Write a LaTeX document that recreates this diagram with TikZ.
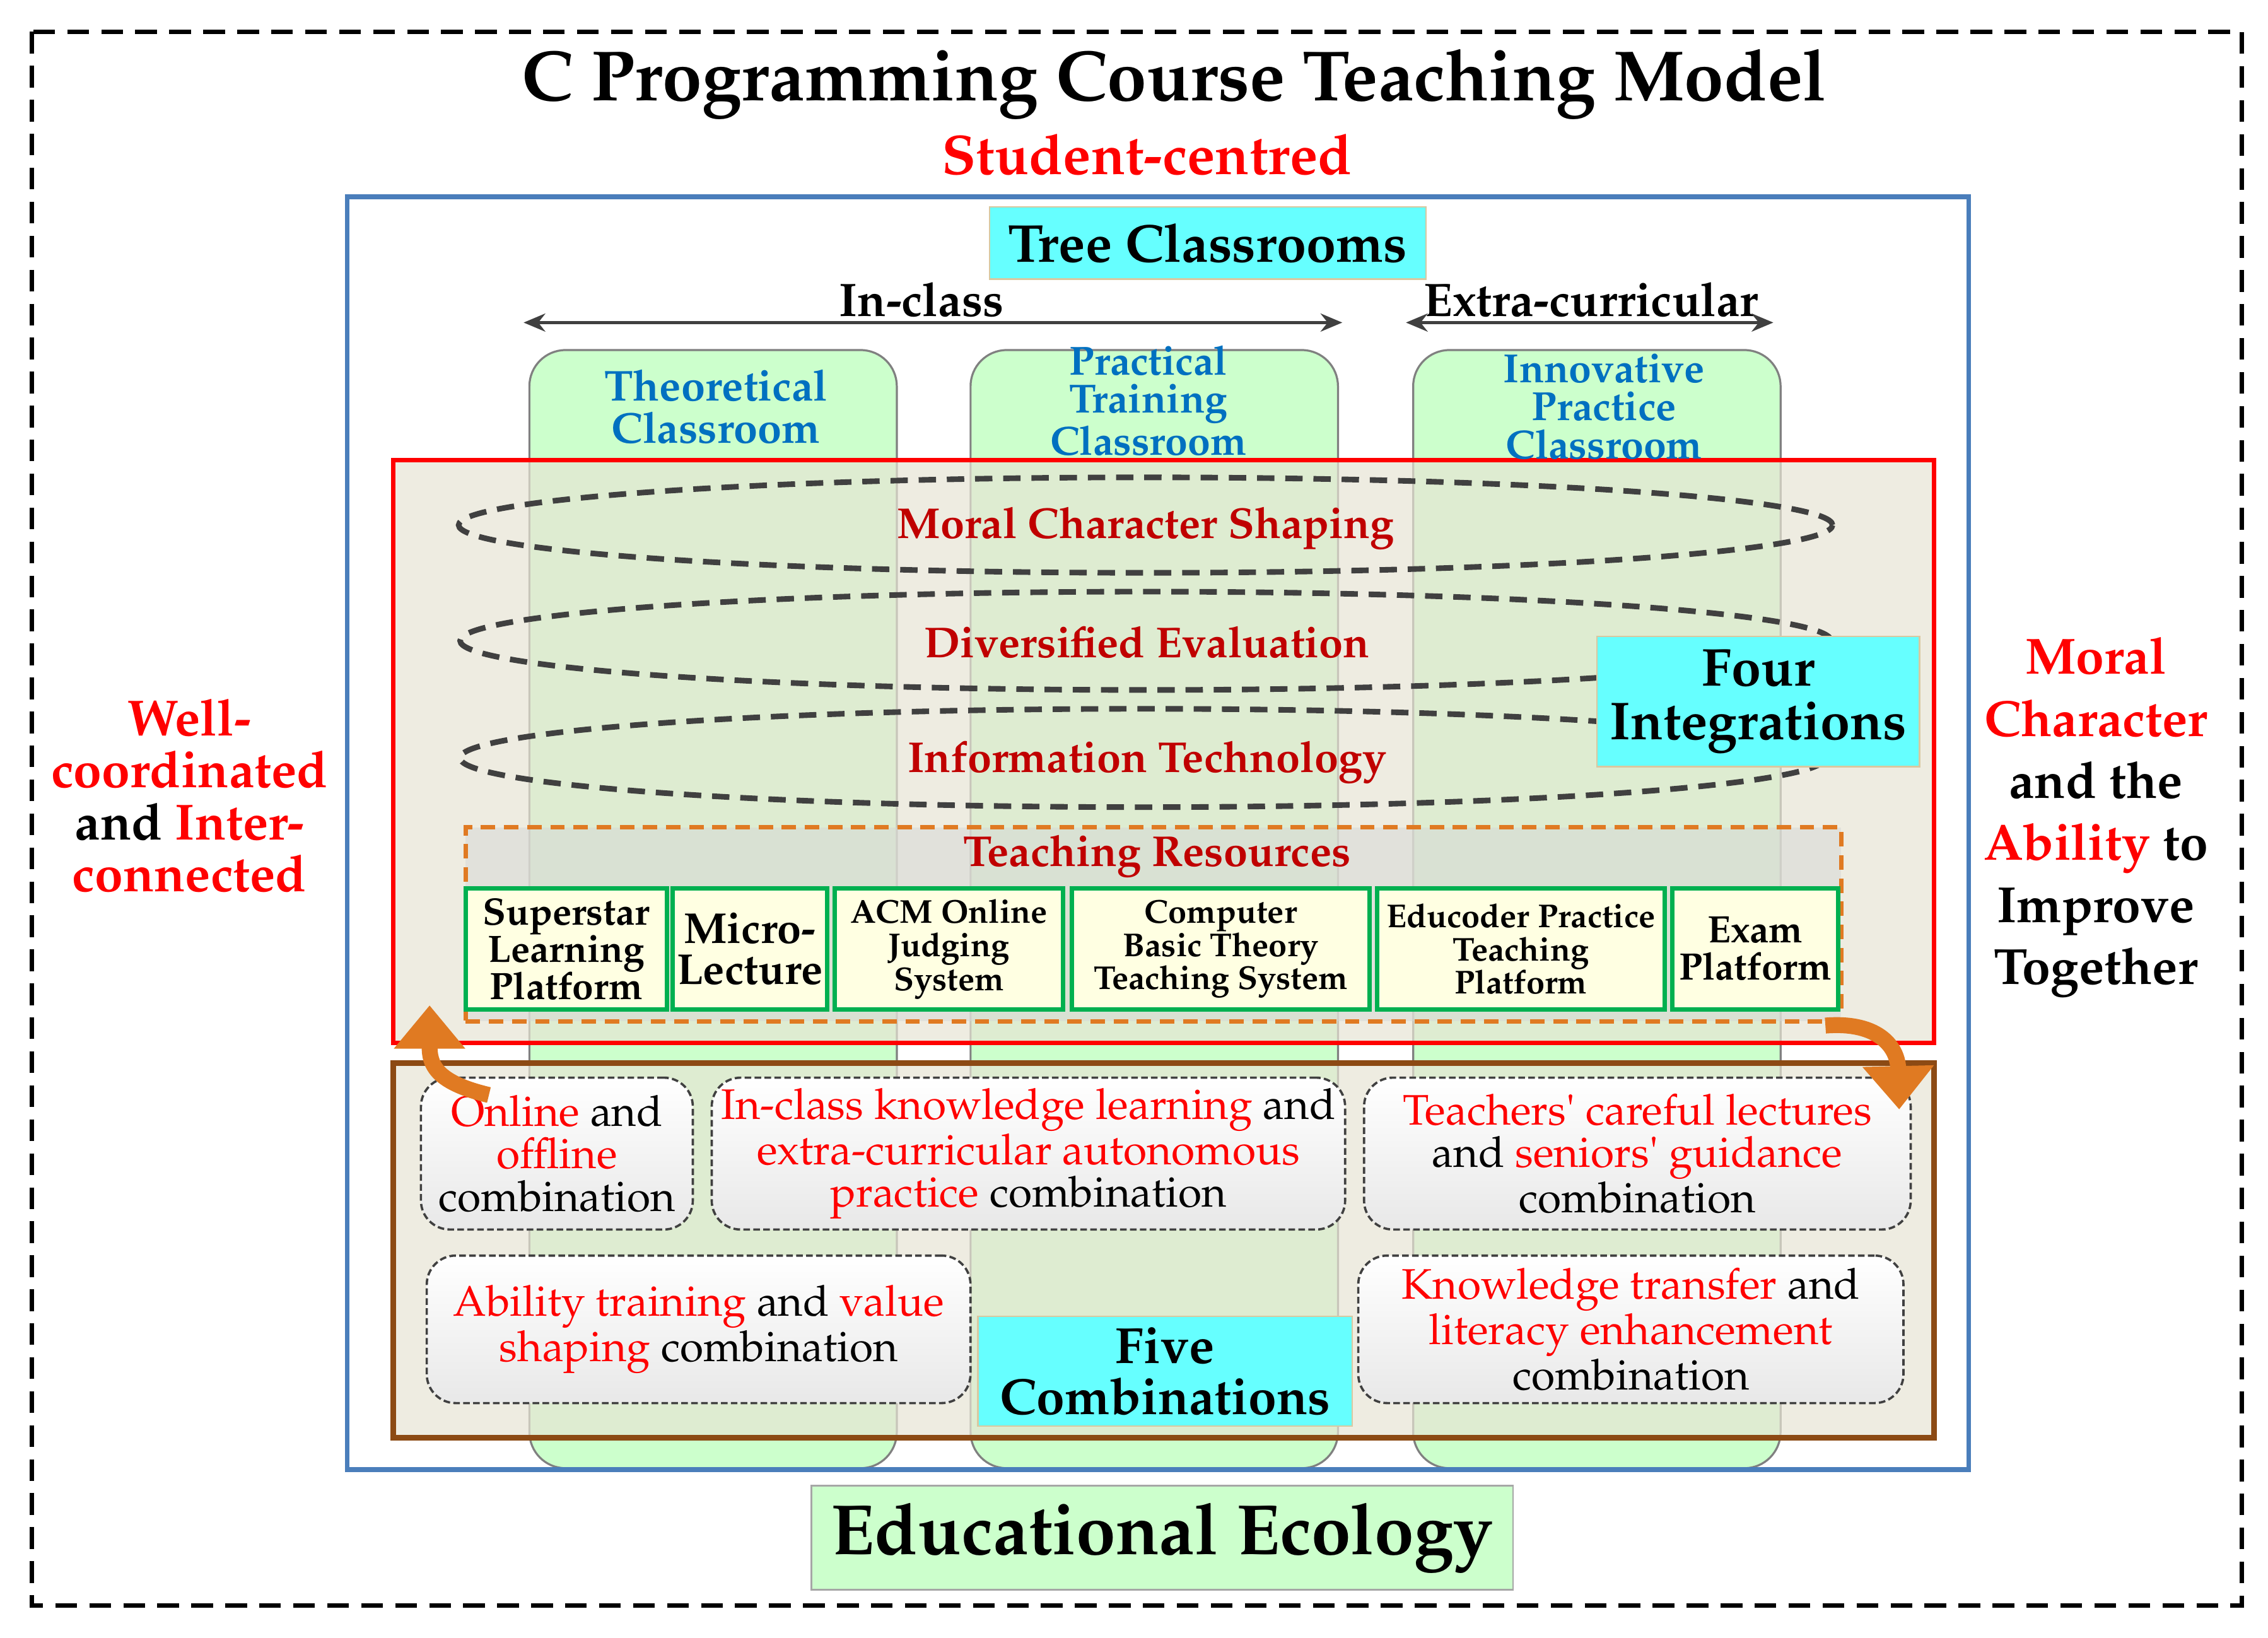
\documentclass[tikz,border=0pt]{standalone}
\usepackage[T1]{fontenc}
\usepackage{textcomp}
\renewcommand{\rmdefault}{ppl}
\usetikzlibrary{arrows.meta,fit}
\definecolor{cyanf}{HTML}{66FFFF}
\definecolor{tanbd}{HTML}{D9C8A0}
\definecolor{greenf}{HTML}{CCFFCC}
\definecolor{colblue}{HTML}{0070C0}
\definecolor{darkred}{HTML}{C00000}
\definecolor{bluebd}{HTML}{4A7EBB}
\definecolor{brownbd}{HTML}{8C4A14}
\definecolor{orangec}{HTML}{E07A22}
\definecolor{greenbd}{HTML}{00B050}
\definecolor{yellowf}{HTML}{FFFFE2}
\definecolor{beigef}{HTML}{E7E4D4}
\definecolor{resf}{HTML}{D6D8D6}
\definecolor{dgray}{HTML}{404040}
\newcommand\fs[2]{\fontsize{#1}{#2}\selectfont}
\newcommand\rtx[1]{\textcolor{red}{#1}}
\tikzset{
  cyanbox/.style={fill=cyanf, draw=tanbd, line width=0.6pt, align=center, text=black},
  resbox/.style={fill=yellowf, draw=greenbd, line width=1.7pt, align=center, minimum height=1.68cm},
  combobox/.style={draw=dgray, line width=0.9pt, dash pattern=on 2.6pt off 1.3pt, rounded corners=0.4cm, top color=white, bottom color=black!9, align=center, font=\fs{16.8}{16.7}},
  colbox/.style={fill=greenf, draw=gray, line width=0.8pt, rounded corners=0.5cm},
  coltitle/.style={text=colblue, align=center},
  ringstyle/.style={draw=dgray, line width=2.2pt, dash pattern=on 0.24cm off 0.15cm},
  ringtext/.style={text=darkred, font=\bfseries\fs{17}{18}},
  dblarrow/.style={draw=dgray, line width=1.3pt, {Stealth[length=0.3cm,width=0.25cm]}-{Stealth[length=0.3cm,width=0.25cm]}},
  orangearrow/.style={draw=orangec, line width=0.22cm, -{Triangle[width=0.95cm,length=0.6cm]}},
}
\begin{document}
\begin{tikzpicture}[x=0.02cm,y=-0.02cm, every node/.style={inner sep=0pt, outer sep=0pt}]
\useasboundingbox (0,0) rectangle (1568,1132);
% outer dashed frame
\draw[black, line width=1.8pt, dash pattern=on 0.3cm off 0.17cm] (22,22) rectangle (1550,1110);
% three classroom columns
\node (col1) [colbox, fit={(366,242) (620,1015)}] {};
\node (col2) [colbox, fit={(671,242) (925,1015)}] {};
\node (col3) [colbox, fit={(977,242) (1231,1015)}] {};
% red and brown frames
\node (redf) [fill=beigef, fill opacity=0.7, draw=red, draw opacity=1, line width=1.8pt, fit={(272,318) (1337,721)}] {};
\node (brownf) [fill=beigef, fill opacity=0.7, draw=brownbd, draw opacity=1, line width=2.3pt, fit={(272,735) (1337,994)}] {};
% blue frame
\draw[bluebd, line width=1.8pt] (240,136) rectangle (1361,1016);
% rings
\draw[ringstyle] (792,363) ellipse [x radius=9.5cm, y radius=0.66cm];
\draw[ringstyle] (792,443) ellipse [x radius=9.48cm, y radius=0.68cm];
\draw[ringstyle] (790,524) ellipse [x radius=9.44cm, y radius=0.68cm];
\node[ringtext] (r1) at (792,365) {Moral Character Shaping};
\node[ringtext] (r2) at (793,444) {Diversified Evaluation};
\node[ringtext] (r3) at (793,527) {Information Technology};
% teaching resources
\node (resf) [fill=resf, fill opacity=0.5, draw=orangec, draw opacity=1, line width=1.7pt, dash pattern=on 0.2cm off 0.12cm, fit={(322,572) (1273,706)}] {};
\node[text=darkred, font=\bfseries\fs{17}{18}] (trt) at (800,592) {Teaching Resources};
\node[resbox, minimum width=2.78cm, font=\bfseries\fs{15}{14.7}] (b1) at (391.5,656) {Superstar\\Learning\\Platform};
\node[resbox, minimum width=2.14cm, font=\bfseries\fs{17}{16}] (b2) at (518.5,656) {Micro-\\Lecture};
\node[resbox, minimum width=3.16cm, font=\bfseries\fs{13}{13.3}] (b3) at (656,656) {ACM Online\\Judging\\System};
\node[resbox, minimum width=4.12cm, font=\bfseries\fs{13}{13.1}] (b4) at (844,656) {Computer\\Basic Theory\\Teaching System};
\node[resbox, minimum width=3.98cm, font=\bfseries\fs{13}{13.1}] (b5) at (1051.5,656) {Educoder Practice\\Teaching\\Platform};
\node[resbox, minimum width=2.3cm, font=\bfseries\fs{15}{14.7}] (b6) at (1213.5,656) {Exam\\Platform};
% combinations
\node[combobox, minimum width=3.76cm, minimum height=2.1cm] (c1) at (385,797.5) {\rtx{Online} and\\\rtx{offline}\\combination};
\node[combobox, minimum width=8.76cm, minimum height=2.1cm] (c2) at (711,797.5) {\rtx{In-class knowledge learning} and\\\rtx{extra-curricular autonomous}\\\rtx{practice} combination};
\node[combobox, minimum width=7.56cm, minimum height=2.1cm] (c3) at (1132,797.5) {\rtx{Teachers\textquotesingle{} careful lectures}\\and \rtx{seniors\textquotesingle{} guidance}\\combination};
\node[combobox, minimum width=7.52cm, minimum height=2.04cm] (c4) at (483,919) {\rtx{Ability training} and \rtx{value}\\\rtx{shaping} combination};
\node[combobox, minimum width=7.54cm, minimum height=2.04cm] (c5) at (1127.5,919) {\rtx{Knowledge transfer} and\\\rtx{literacy enhancement}\\combination};
% cyan boxes
\node[cyanbox, minimum width=6.04cm, minimum height=1.0cm, font=\bfseries\fs{21}{22}] (tree) at (835,168) {Tree Classrooms};
\node[cyanbox, minimum width=4.46cm, minimum height=1.8cm, font=\bfseries\fs{21}{21}] (four) at (1215.5,485) {Four\\Integrations};
\node[cyanbox, minimum width=5.18cm, minimum height=1.52cm, font=\bfseries\fs{20}{20}] (five) at (805.5,948) {Five\\Combinations};
\node[fill=greenf, draw=gray!70, line width=0.6pt, minimum width=9.7cm, minimum height=1.44cm, font=\bfseries\fs{28}{30}] (eco) at (803.5,1063) {Educational Ecology};
% column titles
\node[coltitle, font=\bfseries\fs{17}{16.5}] (t1) at (495,281) {Theoretical\\Classroom};
\node[coltitle, font=\bfseries\fs{16}{15}] (t2) at (794,277) {Practical\\Training\\Classroom};
\node[coltitle, font=\bfseries\fs{16}{15}] (t3) at (1109,281) {Innovative\\Practice\\Classroom};
% in-class / extra-curricular
\node[font=\bfseries\fs{18.5}{20}] (inc) at (637,207) {In-class};
\node[font=\bfseries\fs{18.5}{20}] (exc) at (1100,207) {Extra-curricular};
\coordinate (ia) at (362,223);
\coordinate (ib) at (928,223);
\coordinate (ea) at (972,223);
\coordinate (eb) at (1226,223);
\draw[dblarrow] (ia) -- (ib);
\draw[dblarrow] (ea) -- (eb);
% orange arrows
\coordinate (la1) at (338,757);
\coordinate (la2) at (297,695);
\coordinate (ra1) at (1262,709);
\coordinate (ra2) at (1313,767);
\draw[orangearrow] (la1) .. controls (300,748) and (297,735) .. (la2);
\draw[orangearrow] (ra1) .. controls (1300,706) and (1312,725) .. (ra2);
% titles
\node[font=\bfseries\fs{28}{30}] (title) at (812,58) {C Programming Course Teaching Model};
\node[font=\bfseries\fs{22}{24}, text=red] (sc) at (793,107) {Student-centred};
% side texts
\node[align=center, font=\bfseries\fs{20}{20.4}] (left) at (131,550) {\rtx{Well-}\\\rtx{coordinated}\\and \rtx{Inter-}\\\rtx{connected}};
\node[align=center, font=\bfseries\fs{20}{24.4}] (right) at (1449,565) {\rtx{Moral}\\\rtx{Character}\\and the\\\rtx{Ability} to\\Improve\\Together};
\end{tikzpicture}
\end{document}
